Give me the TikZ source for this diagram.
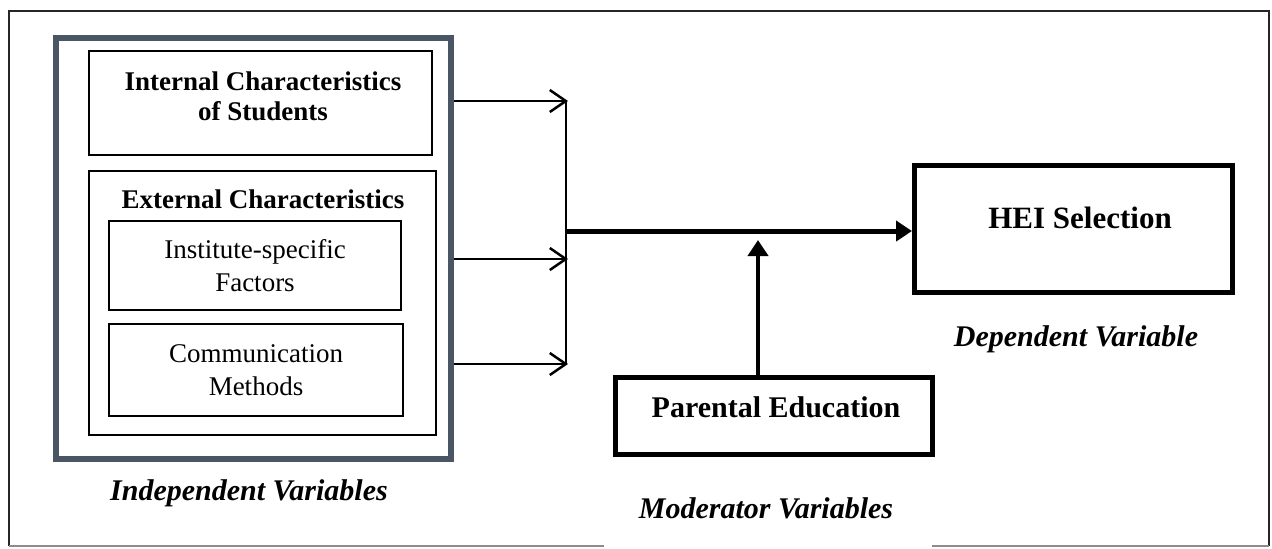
\documentclass[tikz,border=0pt]{standalone}
\usepackage{fontspec}
\setmainfont{Liberation Serif}
\usepackage{tikz}
\usetikzlibrary{positioning}
\usetikzlibrary{arrows.meta}
\definecolor{slate}{RGB}{75,86,100}
\tikzset{box/.style = {draw, line width=1.25pt, rectangle, inner sep=0}}
\tikzset{bigbox/.style = {draw, line width=2.5pt, rectangle, inner sep=0}}
\tikzset{boxtext/.style = {align=center, font=\fontsize{13.5}{16.5}\selectfont}}
\tikzset{vartext/.style = {font=\fontsize{15}{18}\selectfont\bfseries\itshape}}
\tikzset{thin/.style = {line width=1.25pt, -{Straight Barb[length=8pt,width=11pt]}}}
\tikzset{thick/.style = {line width=2.5pt, -{Triangle[length=8pt,width=10pt]}}}

\begin{document}
\begin{tikzpicture}[x=0.5pt, y=-0.5pt]
    \useasboundingbox (0,0) rectangle (1272,548);
    % Draw outer frame
    \draw[line width=1pt, black!85] (9,546) -- (9,11) -- (1269,11) -- (1269,546);
    \draw[line width=1pt, black!45] (604,546) -- (9,546);
    \draw[line width=1pt, black!45] (932,546) -- (1269,546);

    % Independent variables
    \node[draw=slate, line width=3pt, rectangle, inner sep=0,
          minimum width=197.5pt, minimum height=210.5pt] (indep) at (253.5,248.5) {};
    \node[box, minimum width=171.5pt, minimum height=52pt] (internal) at (260.5,103) {};
    \node[boxtext, font=\fontsize{13.5}{15}\selectfont\bfseries] (internaltxt) at (263,96)
        {Internal Characteristics\\of Students};
    \node[box, minimum width=173.5pt, minimum height=132pt] (external) at (262.5,303) {};
    \node[boxtext, font=\fontsize{13.5}{16.5}\selectfont\bfseries] (externaltxt) at (263,199)
        {External Characteristics};
    \node[box, minimum width=146pt, minimum height=44.5pt] (institute) at (255,265.5)
        [boxtext] {Institute-specific\\Factors};
    \node[box, minimum width=147pt, minimum height=46pt] (commun) at (256,370)
        [boxtext] {Communication\\Methods};
    \node[vartext] (indeplabel) at (249,493) {Independent Variables};

    % Dependent variable
    \node[bigbox, minimum width=159pt, minimum height=63.5pt] (hei) at (1073.5,229) {};
    \node[font=\fontsize{15.5}{18}\selectfont\bfseries] (heitxt) at (1080,218) {HEI Selection};
    \node[vartext] (deplabel) at (1076,339) {Dependent Variable};

    % Moderator variable
    \node[bigbox, minimum width=158.5pt, minimum height=38.5pt] (parental) at (774,416) {};
    \node[font=\fontsize{15}{18}\selectfont\bfseries] (parentaltxt) at (776,407) {Parental Education};
    \node[vartext] (modlabel) at (766,508) {Moderator Variables};

    % Connectors
    \coordinate (j1) at (568,101);
    \coordinate (j2) at (568,259);
    \coordinate (j3) at (568,364);
    \coordinate (jm) at (566,231);
    \coordinate (m) at (758,240);
    \draw[thin] (indep.east |- j1) -- (j1);
    \draw[thin] (indep.east |- j2) -- (j2);
    \draw[thin] (indep.east |- j3) -- (j3);
    \draw[line width=1.2pt] (566,101) -- (566,364);
    \draw[thick] (jm) -- (hei.west |- jm);
    \draw[thick, line width=2.2pt] (m |- parental.north) -- (m);
\end{tikzpicture}
\end{document}
